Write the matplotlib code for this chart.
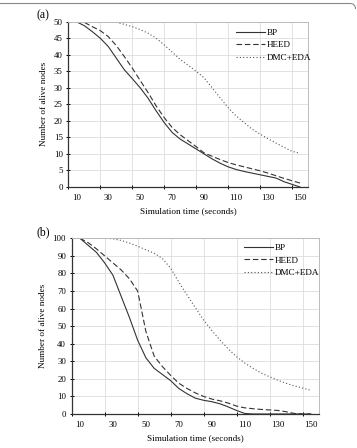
# Alive nodes over simulation time, two network sizes (a) 50 nodes, (b) 100 nodes

import matplotlib.pyplot as plt
import numpy as np
from matplotlib.path import Path
from matplotlib.patches import PathPatch

plt.rcParams['font.family'] = ['Liberation Serif', 'DejaVu Serif']

sim_time = [10, 15, 20, 25, 30, 35, 40, 45, 50, 55, 60, 65, 70, 75, 80,
            85, 90, 95, 100, 105, 110, 115, 120, 125, 130, 135, 140, 145, 150]

# panel (a)
bp_a = [50, 48.8, 47, 45, 42.5, 39, 35.5, 32.8, 30, 26.8, 23, 19.5, 16.5, 14.5, 13,
        11.5, 10, 8.5, 7.2, 6.1, 5.3, 4.7, 4.2, 3.7, 3.2, 2.7, 1.6, 0.8, 0]
heed_a = [50, 49.8, 48.5, 47.3, 45.5, 42.8, 39.5, 36, 32.2, 28.5, 24.5, 21, 18, 15.8, 14,
          12.2, 10.3, 9.3, 8.3, 7.4, 6.7, 6.1, 5.5, 4.9, 4.2, 3.4, 2.6, 1.9, 1.2]
dmc_a = [50, 50, 50, 50, 50, 49.8, 49.2, 48.5, 47.6, 46.5, 45, 43, 40.8, 38.6, 36.8,
         35, 33, 30, 27, 24, 21.5, 19.5, 17.5, 16, 14.6, 13.3, 12, 10.8, 10.2]

# panel (b)
bp_b = [100, 96, 92, 86, 79, 67, 55, 42, 32, 26, 22.5, 19, 14.5, 11.5, 9,
        7.8, 7, 5.8, 4, 2, 0.3, 0, 0, 0, 0, 0, 0, 0, 0]
heed_b = [100, 97.5, 94, 90, 86, 82, 77, 70, 47, 33, 27, 22, 17.5, 14.5, 12,
          10, 8.5, 7.5, 6.2, 4.5, 3.5, 3, 2.6, 2.3, 2, 1.3, 0.3, 0, 0]
dmc_b = [100, 100, 100, 100, 99.7, 98.8, 97.3, 95.5, 93.5, 91.5, 88.5, 83, 75, 67.7, 60.5,
         53.5, 47.5, 42, 37, 32.6, 29, 26, 23.3, 21.2, 19.2, 17.5, 16, 14.8, 13.5]

labels = ['BP', 'HEED', 'DMC+EDA']
xtick_labels = [10, 30, 50, 70, 90, 110, 130, 150]


def draw_panel(ax, bp, heed, dmc, ymax, ystep, leg_anchor):
    ax.plot(sim_time, bp, color='#333333', lw=0.8, ls='-', label=labels[0])
    ax.plot(sim_time, heed, color='#333333', lw=0.8, ls=(0, (5, 2.5)), label=labels[1])
    ax.plot(sim_time, dmc, color='#555555', lw=0.8, ls=(0, (1, 2)), label=labels[2])

    ax.set_xlim(5, 155)
    ax.set_ylim(0, ymax)
    # category boundaries carry tick marks and grid, labels sit at the centres
    ax.set_xticks(np.arange(5, 150, 20))
    ax.set_xticklabels([])
    ax.set_xticks(xtick_labels, minor=True)
    ax.set_xticklabels([str(v) for v in xtick_labels], minor=True)
    ax.set_yticks(np.arange(0, ymax + 1, ystep))
    ax.tick_params(axis='x', which='major', direction='inout', length=3, width=0.7)
    ax.tick_params(axis='x', which='minor', length=0, pad=5, labelsize=6.3)
    ax.tick_params(axis='y', direction='inout', length=3, width=0.7, pad=2.5, labelsize=6.3)

    ax.grid(True, which='major', color='#dddddd', lw=0.6)
    ax.set_axisbelow(True)
    for s in ['top', 'right']:
        ax.spines[s].set_color('#bbbbbb')
        ax.spines[s].set_linewidth(0.7)
    for s in ['left', 'bottom']:
        ax.spines[s].set_color('#333333')
        ax.spines[s].set_linewidth(0.9)

    ax.set_ylabel('Number of alive nodes', fontsize=6.6, labelpad=4)
    ax.set_xlabel('Simulation time (seconds)', fontsize=6.6, labelpad=4)
    ax.legend(loc='upper left', bbox_to_anchor=leg_anchor, frameon=False,
              fontsize=6.6, handlelength=3.2, handletextpad=0.15,
              labelspacing=0.45, borderpad=0, borderaxespad=0)


fig = plt.figure(figsize=(3.57, 4.48), dpi=100)
ax1 = fig.add_axes([0.1913, 0.5826, 0.6714, 0.369])
ax2 = fig.add_axes([0.2008, 0.0759, 0.6928, 0.3922])

draw_panel(ax1, bp_a, heed_a, dmc_a, 50, 5, (0.70, 0.96))
draw_panel(ax2, bp_b, heed_b, dmc_b, 100, 10, (0.697, 0.97))

fig.text(0.101, 0.9665, '(a)', fontsize=8.5, va='center', ha='left')
fig.text(0.101, 0.4814, '(b)', fontsize=8.5, va='center', ha='left')

# thin frame along the top edge with a rounded right corner
verts = [(0.0, 1 - 3.5 / 448), (350 / 357, 1 - 3.5 / 448),
         (355.5 / 357, 1 - 3.5 / 448), (355.5 / 357, 1 - 9 / 448)]
codes = [Path.MOVETO, Path.LINETO, Path.CURVE3, Path.CURVE3]
fig.add_artist(PathPatch(Path(verts, codes), transform=fig.transFigure,
                         fill=False, edgecolor='#888888', lw=0.8))

fig.savefig('out.png', dpi=100)
